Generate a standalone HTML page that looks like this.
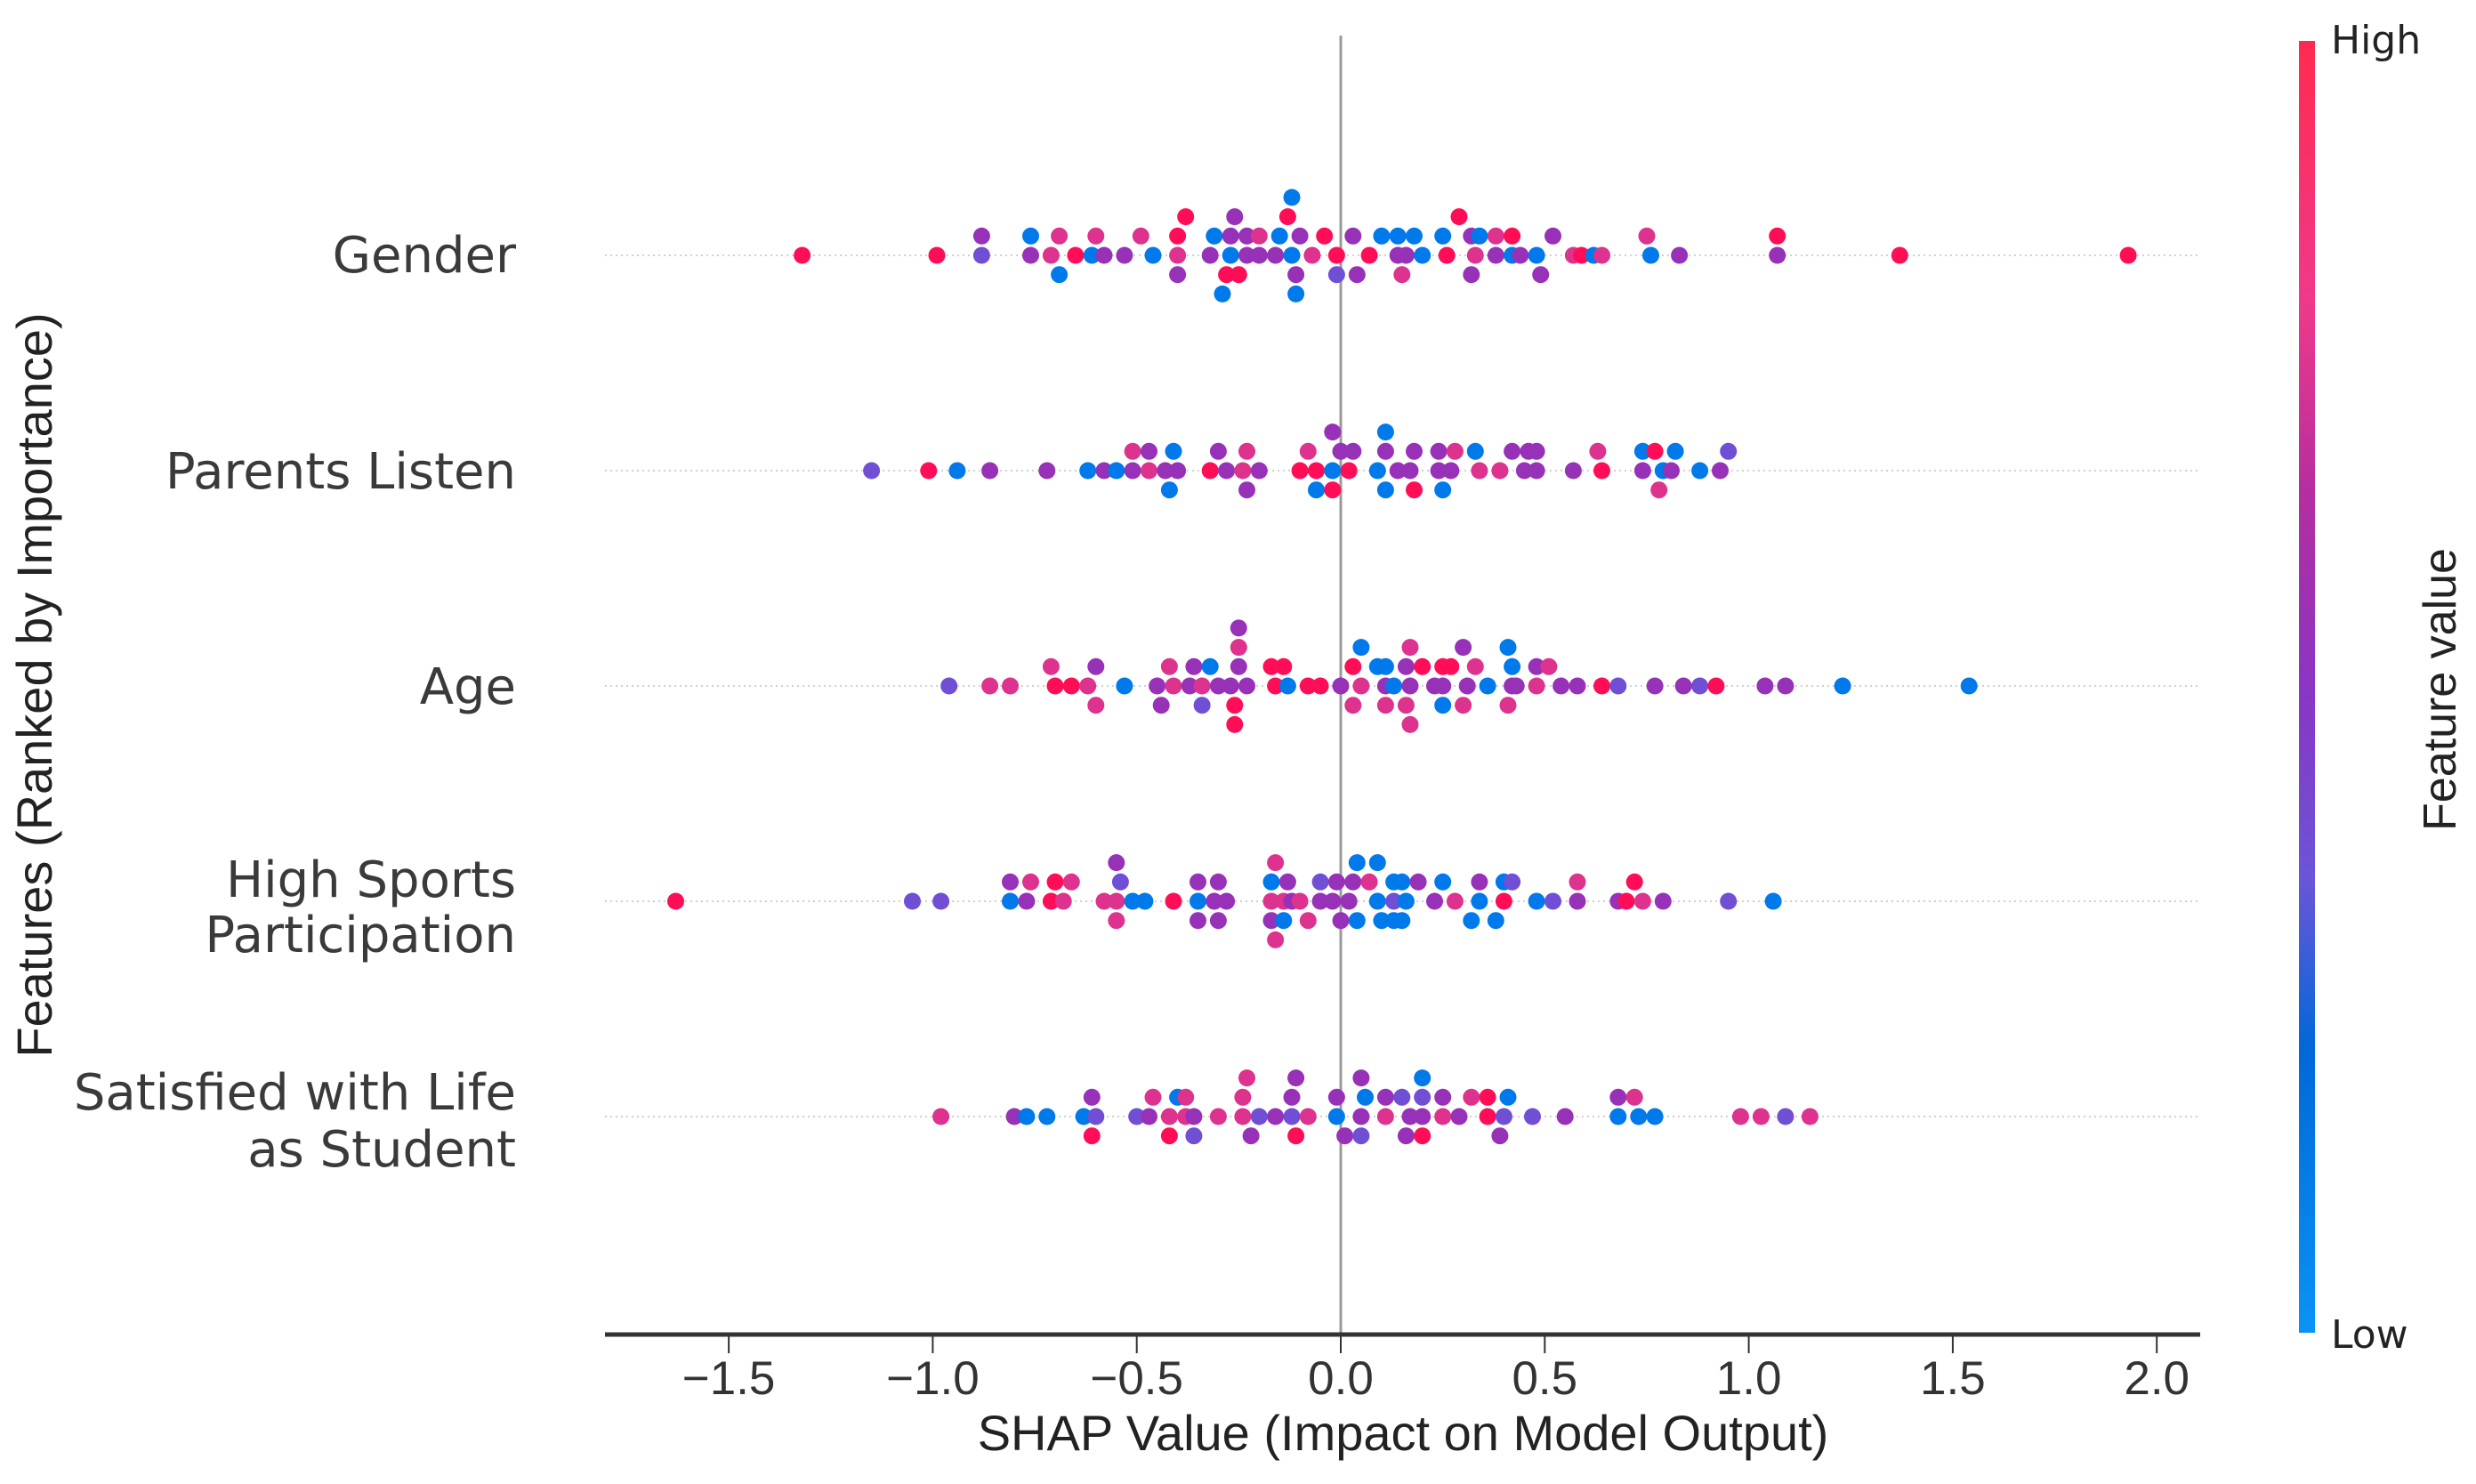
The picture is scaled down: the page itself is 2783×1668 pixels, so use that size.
<!DOCTYPE html>
<html><head><meta charset="utf-8"><style>
html,body{margin:0;padding:0;background:#fff;}
svg{display:block;}
</style></head><body>
<svg id="chart" width="2783" height="1668" viewBox="0 0 2783 1668" xmlns="http://www.w3.org/2000/svg">
<defs>
<linearGradient id="cbar" x1="0" y1="1" x2="0" y2="0">
<stop offset="0" stop-color="#0a93f5"/><stop offset="0.22" stop-color="#0068d8"/><stop offset="0.35" stop-color="#6a55d8"/><stop offset="0.5" stop-color="#8a35c4"/><stop offset="0.65" stop-color="#b52e9f"/><stop offset="0.8" stop-color="#f0398a"/><stop offset="1" stop-color="#ff2a50"/>
</linearGradient>
</defs>
<g id="grid"></g>
<line x1="1507" y1="40" x2="1507" y2="1500" stroke="#999" stroke-width="3"/>
<g id="dots"></g>
<line x1="680" y1="1500" x2="2473" y2="1500" stroke="#333" stroke-width="5"/>
<g id="ticks"></g>
<text x="1577" y="1630" font-family="Liberation Sans, sans-serif" font-size="56" fill="#222" text-anchor="middle">SHAP Value (Impact on Model Output)</text>
<text transform="translate(58,770) rotate(-90)" font-family="Liberation Sans, sans-serif" font-size="56" fill="#222" text-anchor="middle">Features (Ranked by Importance)</text>
<g id="labels" font-family="DejaVu Sans, sans-serif" font-size="56" fill="#3a3a3a" text-anchor="end">
<text x="580" y="306">Gender</text>
<text x="580" y="549">Parents Listen</text>
<text x="580" y="791">Age</text>
<text x="580" y="1008">High Sports</text>
<text x="580" y="1070">Participation</text>
<text x="580" y="1247">Satisfied with Life</text>
<text x="580" y="1311">as Student</text>
</g>
<rect x="2584" y="46" width="18" height="1452" fill="url(#cbar)"/>
<text x="2620" y="60" font-family="DejaVu Sans, sans-serif" font-size="44" fill="#222">High</text>
<text x="2620" y="1515" font-family="DejaVu Sans, sans-serif" font-size="44" fill="#222">Low</text>
<text transform="translate(2760,775) rotate(-90)" font-family="Liberation Sans, sans-serif" font-size="52" fill="#222" text-anchor="middle">Feature value</text>
</svg>
<script>
const features = ["Gender","Parents Listen","Age","High Sports Participation","Satisfied with Life as Student"];
const tickValues = [-1.5,-1.0,-0.5,0.0,0.5,1.0,1.5,2.0];
const tickLabels = ["\u22121.5","\u22121.0","\u22120.5","0.0","0.5","1.0","1.5","2.0"];
const layerOrder = [0,1,2,3,-1,-2];
// SHAP values grouped by swarm layer (order: 0, +1, +2, +3, -1, -2)
const genderShap = [
 [-1.32,-0.99,-0.88,-0.76,-0.71,-0.65,-0.61,-0.58,-0.53,-0.46,-0.40,-0.32,-0.27,-0.23,-0.20,-0.16,-0.12,-0.07,-0.01,0.07,0.14,0.16,0.20,0.26,0.33,0.38,0.42,0.44,0.48,0.57,0.59,0.62,0.64,0.76,0.83,1.07,1.37,1.93],
 [-0.88,-0.76,-0.69,-0.60,-0.49,-0.40,-0.31,-0.27,-0.23,-0.20,-0.15,-0.10,-0.04,0.03,0.10,0.14,0.18,0.25,0.32,0.34,0.38,0.42,0.52,0.75,1.07],
 [-0.38,-0.26,-0.13,0.29],
 [-0.12],
 [-0.69,-0.40,-0.28,-0.25,-0.11,-0.01,0.04,0.15,0.32,0.49],
 [-0.29,-0.11]];
const genderFeat = ["rrqpmrbppbmpbpppbmrrppbrmpbpbmrbmbpprr","pbmmmrbppmbprpbbbbpbmrpmr","rprr","b","bprrpqpmpp","bb"];
const parentsShap = [
 [-1.15,-1.01,-0.94,-0.86,-0.72,-0.62,-0.58,-0.55,-0.51,-0.47,-0.43,-0.40,-0.32,-0.28,-0.24,-0.20,-0.10,-0.06,-0.02,0.02,0.09,0.14,0.17,0.24,0.27,0.34,0.39,0.45,0.48,0.57,0.64,0.74,0.79,0.81,0.88,0.93],
 [-0.51,-0.47,-0.41,-0.30,-0.23,-0.08,0.00,0.03,0.11,0.18,0.24,0.28,0.33,0.42,0.46,0.48,0.63,0.74,0.77,0.82,0.95],
 [-0.02,0.11],
 [],
 [-0.42,-0.23,-0.06,-0.02,0.11,0.18,0.25,0.78],
 []];
const parentsFeat = ["qrbppbpbpmpprpmprrbrbppppmmppprpbpbp","mpbpmmpppppmbpppmbrbq","pb","","bpbrbrbm",""];
const ageShap = [
 [-0.96,-0.86,-0.81,-0.70,-0.66,-0.62,-0.53,-0.45,-0.41,-0.37,-0.34,-0.30,-0.27,-0.23,-0.16,-0.13,-0.08,-0.05,0.00,0.05,0.11,0.13,0.17,0.23,0.25,0.31,0.36,0.42,0.43,0.48,0.54,0.58,0.64,0.68,0.77,0.84,0.88,0.92,1.04,1.09,1.23,1.54],
 [-0.71,-0.60,-0.42,-0.36,-0.32,-0.25,-0.17,-0.14,0.03,0.09,0.11,0.16,0.20,0.25,0.27,0.33,0.42,0.48,0.51],
 [-0.25,0.05,0.17,0.30,0.41],
 [-0.25],
 [-0.60,-0.44,-0.34,-0.26,0.03,0.11,0.16,0.25,0.30,0.41],
 [-0.26,0.17]];
const ageFeat = ["qmmrrmbpmpmppprbrrpmpbppppbppmpprqppqrppbb","mpmpbprrrbbprrrmbpm","mbmpb","p","mpqrmmmbmm","rm"];
const sportsShap = [
 [-1.63,-1.05,-0.98,-0.81,-0.77,-0.71,-0.68,-0.58,-0.55,-0.51,-0.48,-0.41,-0.35,-0.31,-0.28,-0.17,-0.14,-0.12,-0.10,-0.05,-0.02,0.02,0.09,0.13,0.16,0.23,0.28,0.34,0.40,0.48,0.52,0.58,0.68,0.70,0.74,0.79,0.95,1.06],
 [-0.81,-0.76,-0.70,-0.66,-0.54,-0.35,-0.30,-0.17,-0.13,-0.05,-0.01,0.03,0.07,0.13,0.15,0.19,0.25,0.34,0.40,0.42,0.58,0.72],
 [-0.55,-0.16,0.04,0.09],
 [],
 [-0.55,-0.35,-0.30,-0.17,-0.14,-0.08,0.00,0.04,0.10,0.13,0.15,0.32,0.38],
 [-0.16]];
const sportsFeat = ["rqqbprmmmbbrbppmmpmpppbqbpmbrbqpprmpqb","pmrmqppbpqppmbbpbpbqmr","pmbb","","mpppbmpbbbbbb","m"];
const satisfiedShap = [
 [-0.98,-0.80,-0.77,-0.72,-0.63,-0.60,-0.50,-0.47,-0.42,-0.38,-0.36,-0.30,-0.24,-0.20,-0.16,-0.12,-0.08,-0.01,0.05,0.11,0.17,0.20,0.25,0.29,0.36,0.40,0.47,0.55,0.68,0.73,0.77,0.98,1.03,1.09,1.15],
 [-0.61,-0.46,-0.40,-0.38,-0.24,-0.12,-0.01,0.06,0.11,0.15,0.20,0.25,0.32,0.36,0.41,0.68,0.72],
 [-0.23,-0.11,0.05,0.20],
 [],
 [-0.61,-0.42,-0.36,-0.22,-0.11,0.01,0.05,0.16,0.20,0.39],
 []];
const satisfiedFeat = ["mpbbbqqpmmpmmqpqmbpmppmprqqpbbbmmqm","pmbmmppbpqqpmrbpm","mppb","","rrqprpqprp",""];

const allShap = [genderShap, parentsShap, ageShap, sportsShap, satisfiedShap];
const allFeat = [genderFeat, parentsFeat, ageFeat, sportsFeat, satisfiedFeat];
const featLevel = {r:1.0, m:0.78, p:0.55, q:0.38, b:0.1};

const X0 = 1507, XU = 458.6;
function xScale(v){ return X0 + v*XU; }
const ROW_TOP = 287, ROW_STEP = 242, LAYER = 21.7;
function yScale(i){ return ROW_TOP + i*ROW_STEP; }

const stops = [[0,[0,138,251]],[0.2,[0,104,216]],[0.35,[106,85,216]],[0.5,[138,53,196]],[0.65,[176,42,160]],[0.8,[228,51,138]],[1,[255,13,87]]];
function colorFor(t){
  for(let i=1;i<stops.length;i++){
    if(t<=stops[i][0]){
      const a=stops[i-1], b=stops[i], f=(t-a[0])/(b[0]-a[0]);
      const c=a[1].map((v,k)=>Math.round(v+(b[1][k]-v)*f));
      return `rgb(${c[0]},${c[1]},${c[2]})`;
    }
  }
  return 'rgb(255,13,87)';
}
const NS = "http://www.w3.org/2000/svg";
const grid = document.getElementById('grid');
const dots = document.getElementById('dots');
const ticks = document.getElementById('ticks');

features.forEach((f,i)=>{
  const ln = document.createElementNS(NS,'line');
  
  
  ln.setAttribute('x1',680); ln.setAttribute('x2',2473);
  ln.setAttribute('y1',yScale(i)); ln.setAttribute('y2',yScale(i));
  ln.setAttribute('stroke','#d0d0d0'); ln.setAttribute('stroke-width','2'); ln.setAttribute('stroke-dasharray','2 4');
  grid.appendChild(ln);
  allShap[i].forEach((vals,li)=>{
    const off = layerOrder[li];
    vals.forEach((v,k)=>{
      const c = document.createElementNS(NS,'circle');
      
      
      c.setAttribute('cx', xScale(v).toFixed(1));
      c.setAttribute('cy', (yScale(i) - off*LAYER).toFixed(1));
      c.setAttribute('r', 9.5);
      c.setAttribute('fill', colorFor(featLevel[allFeat[i][li][k]] || 0.5));
      dots.appendChild(c);
    });
  });
});
tickValues.forEach((v,i)=>{
  const t = document.createElementNS(NS,'line');
  
  
  t.setAttribute('x1',xScale(v)); t.setAttribute('x2',xScale(v));
  t.setAttribute('y1',1500); t.setAttribute('y2',1521);
  t.setAttribute('stroke','#333'); t.setAttribute('stroke-width','2');
  ticks.appendChild(t);
  const tx = document.createElementNS(NS,'text');
  
  
  tx.setAttribute('x',xScale(v)); tx.setAttribute('y',1567);
  tx.setAttribute('text-anchor','middle');
  tx.setAttribute('font-family','Liberation Sans, sans-serif');
  tx.setAttribute('font-size','53'); tx.setAttribute('fill','#333');
  tx.textContent = tickLabels[i];
  ticks.appendChild(tx);
});
</script>
</body></html>
